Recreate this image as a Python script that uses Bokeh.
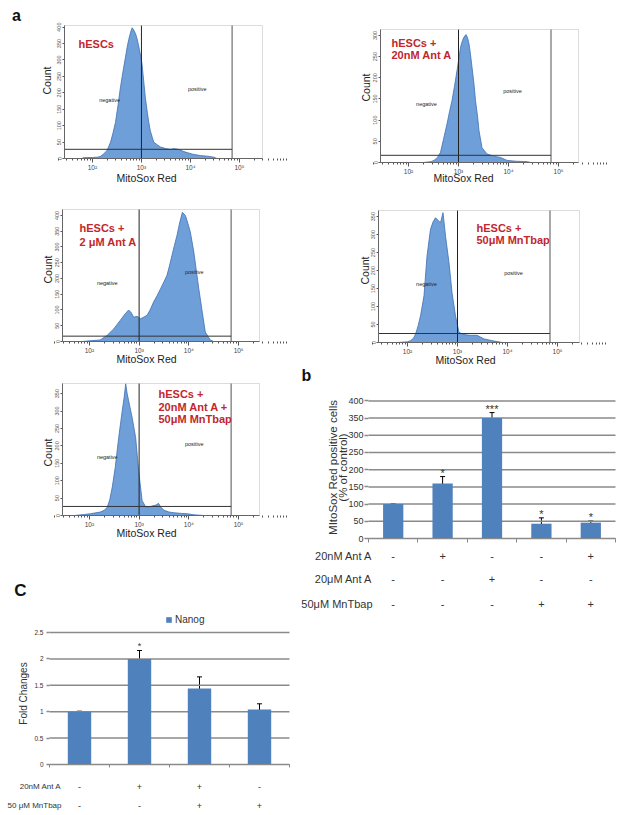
import math
from bokeh.plotting import figure
from bokeh.models import (Range1d, FixedTicker, Label, LabelSet, ColumnDataSource,
                          Whisker, TeeHead, Legend, LegendItem, Spacer, BoxAnnotation)
from bokeh.layouts import row, column
from bokeh.core.properties import value
from bokeh.embed import file_html
from bokeh.resources import INLINE

FONT = "Liberation Sans"
RED = "#c1272d"
HIST_FILL = "#6f9fd8"
HIST_LINE = "#3d6fb3"
BAR = "#4f81bd"
GRID = "#8a8a8a"
TXT = "#333333"

# ---------------- data: flow histograms (x = log10 MitoSox Red, counts) ----------------
h1_x = [1.8, 1.9, 2.0, 2.1, 2.16, 2.23, 2.30, 2.37, 2.42, 2.47, 2.52, 2.57, 2.62, 2.67, 2.71, 2.74,
        2.78, 2.81, 2.84, 2.88, 2.91, 2.94, 2.98, 3.01, 3.05, 3.08, 3.12, 3.15, 3.18, 3.22, 3.25,
        3.32, 3.39, 3.5, 3.6, 3.66, 3.75, 3.85, 3.93, 4.05, 4.2, 4.35, 4.48, 4.54]
h1_c = [2, 3, 3, 4, 6, 14, 25, 50, 78, 110, 160, 215, 262, 305, 340, 362,
        385, 398, 392, 380, 365, 345, 315, 290, 230, 185, 140, 110, 85, 65, 50,
        42, 35, 30, 28, 30, 28, 22, 18, 13, 9, 7, 4, 0]

h2_x = [2.3, 2.45, 2.51, 2.58, 2.64, 2.7, 2.77, 2.82, 2.87, 2.92, 2.97, 3.01, 3.04, 3.08, 3.11, 3.15,
        3.18, 3.21, 3.24, 3.27, 3.31, 3.34, 3.38, 3.41, 3.47, 3.57, 3.7, 3.84, 3.97, 4.15, 4.37, 4.45]
h2_c = [0, 2, 5, 12, 24, 55, 91, 120, 146, 180, 217, 248, 272, 288, 296, 302,
        295, 280, 255, 225, 185, 146, 110, 75, 35, 20, 15, 12, 5, 3, 2, 0]

h3_x = [1.85, 2.0, 2.22, 2.36, 2.49, 2.62, 2.72, 2.79, 2.84, 2.89, 2.96, 3.03, 3.1, 3.16, 3.22, 3.29,
        3.36, 3.43, 3.5, 3.56, 3.61, 3.66, 3.71, 3.76, 3.82, 3.87, 3.93, 3.98, 4.03, 4.1, 4.15, 4.2,
        4.27, 4.33, 4.43, 4.5]
h3_c = [0, 2, 5, 20, 40, 67, 88, 100, 92, 77, 80, 72, 78, 83, 100, 125,
        145, 167, 190, 210, 240, 273, 305, 336, 380, 410, 400, 375, 347, 284, 225, 167,
        93, 30, 5, 0]

h4_x = [1.8, 2.0, 2.06, 2.12, 2.16, 2.21, 2.26, 2.33, 2.39, 2.46, 2.51, 2.56, 2.61, 2.66, 2.71, 2.76,
        2.83, 2.89, 2.96, 3.03, 3.13, 3.25, 3.39, 3.53, 3.73, 3.9]
h4_c = [0, 2, 5, 12, 23, 45, 74, 130, 240, 315, 335, 347, 340, 333, 361, 296,
        222, 139, 74, 28, 22, 20, 20, 10, 4, 0]

h5_x = [1.7, 1.9, 2.02, 2.22, 2.3, 2.36, 2.41, 2.46, 2.52, 2.59, 2.66, 2.7, 2.73, 2.76, 2.79, 2.86,
        2.93, 2.99, 3.06, 3.13, 3.2, 3.28, 3.34, 3.39, 3.43, 3.5, 3.6, 3.7, 3.85, 3.97, 4.1, 4.3]
h5_c = [0, 3, 5, 10, 15, 24, 45, 81, 138, 224, 300, 340, 378, 350, 329, 281,
        224, 129, 43, 25, 24, 28, 30, 35, 25, 15, 10, 8, 6, 5, 2, 0]

gate_neg = 3.0        # log10 of negative/positive boundary
gate_max = 4.85       # log10 of right gate
gate_y = [28, 17, 17, 25, 26]
hist_xticks = [2, 3, 4, 5]
hist_xtick_labels = ["10\u00b2", "10\u00b3", "10\u2074", "10\u2075"]

# ---------------- data: panel b ----------------
b_vals = [100, 160, 350, 43, 46]
b_err = [1, 20, 16, 17, 5]
b_stars = ["", "*", "***", "*", "*"]
b_rows = ["20nM Ant A", "20\u03bcM Ant A", "50\u03bcM MnTbap"]
b_signs = [["-", "+", "-", "-", "+"],
           ["-", "-", "+", "-", "-"],
           ["-", "-", "-", "+", "+"]]
b_yticks = [0, 50, 100, 150, 200, 250, 300, 350, 400]

# ---------------- data: panel c ----------------
c_vals = [1.0, 2.0, 1.44, 1.04]
c_err = [0.01, 0.16, 0.22, 0.11]
c_stars = ["", "*", "", ""]
c_rows = ["20nM Ant A", "50 \u03bcM MnTbap"]
c_signs = [["-", "+", "+", "-"],
           ["-", "-", "+", "+"]]
c_yticks = [0, 0.5, 1, 1.5, 2, 2.5]
c_ytick_labels = ["0", "0.5", "1", "1.5", "2", "2.5"]


def panel(W, H, bl, bt, fw, fh, xr, yr):
    """Figure whose frame is the whole canvas; the plot area (xr, yr) sits at bl/bt with size fw x fh."""
    bb = H - bt - fh
    br = W - bl - fw
    sx = (xr[1] - xr[0]) / fw
    sy = (yr[1] - yr[0]) / fh
    p = figure(width=W, height=H,
               x_range=Range1d(xr[0] - bl * sx, xr[1] + br * sx),
               y_range=Range1d(yr[0] - bb * sy, yr[1] + bt * sy),
               output_backend="svg", toolbar_location=None, min_border=0)
    if p.title is not None:
        p.title.visible = False
    p.outline_line_color = None
    p.grid.visible = False
    p.xaxis.fixed_location = yr[0]
    p.yaxis.fixed_location = xr[0]
    p.xaxis.bounds = xr
    p.yaxis.bounds = yr
    return p, (bl, bb)


def lab(p, g, text, rx, ry, size, color=TXT, bold=False, angle=0.0, align="left", baseline="middle"):
    p.add_layout(Label(x=g[0] + rx, y=g[1] + ry, x_units="screen", y_units="screen", text=text,
                       text_font=FONT, text_font_size=size, text_color=color,
                       text_font_style="bold" if bold else "normal", angle=angle,
                       text_align=align, text_baseline=baseline))


def hist_panel(W, H, bl, bt, fw, fh, xr, ymax, ytop, xs, cs, gy, titles, tpos, neg, pos, cnt, xl, letter=None):
    p, g = panel(W, H, bl, bt, fw, fh, xr, (0, ymax))
    p.add_layout(BoxAnnotation(left=xr[0], right=xr[1], bottom=0, top=ymax, fill_color=None,
                               line_color="#8a8a8a", line_width=1))
    p.varea(x=xs, y1=0, y2=cs, fill_color=HIST_FILL)
    p.line(xs, cs, line_color=HIST_LINE, line_width=0.8)
    p.segment(x0=[gate_neg], y0=[0], x1=[gate_neg], y1=[ymax], line_color="#222222", line_width=1)
    p.segment(x0=[gate_max], y0=[0], x1=[gate_max], y1=[ymax], line_color="#7a7a7a", line_width=1.3)
    p.segment(x0=[xr[0]], y0=[gy], x1=[gate_max], y1=[gy], line_color="#333333", line_width=1)
    # x axis
    minors = [math.log10(k * 10 ** d) for d in range(1, 6) for k in range(2, 10)]
    p.xaxis.ticker = FixedTicker(ticks=hist_xticks, minor_ticks=minors)
    p.xaxis.major_label_overrides = dict(zip(hist_xticks, hist_xtick_labels))
    p.xaxis.major_label_text_font = FONT
    p.xaxis.major_label_text_font_size = "6.5px"
    p.xaxis.major_label_text_color = "#444444"
    p.xaxis.major_tick_in = 0
    p.xaxis.major_tick_out = 4
    p.xaxis.minor_tick_in = 0
    p.xaxis.minor_tick_out = 2
    p.xaxis.major_label_standoff = 1
    p.xaxis.axis_line_color = "#555555"
    p.xaxis.major_tick_line_color = "#555555"
    p.xaxis.minor_tick_line_color = "#555555"
    # y axis
    p.yaxis.ticker = FixedTicker(ticks=list(range(0, ytop + 1, 50)), minor_ticks=[])
    p.yaxis.major_label_orientation = "vertical"
    p.yaxis.major_label_text_font = FONT
    p.yaxis.major_label_text_font_size = "5.5px"
    p.yaxis.major_label_text_color = "#555555"
    p.yaxis.major_tick_in = 0
    p.yaxis.major_tick_out = 2
    p.yaxis.major_label_standoff = 1
    p.yaxis.axis_line_color = "#555555"
    p.yaxis.major_tick_line_color = "#555555"
    # texts
    for i, t in enumerate(titles):
        lab(p, g, t, tpos[i][0], tpos[i][1], "11px", color=RED, bold=True)
    p.add_layout(Label(x=neg[0], y=neg[1], text="negative", text_font=FONT, text_font_size="5.5px",
                       text_color="#222222", text_align="center", text_baseline="middle"))
    p.add_layout(Label(x=pos[0], y=pos[1], text="positive", text_font=FONT, text_font_size="5.5px",
                       text_color="#222222", text_align="center", text_baseline="middle"))
    lab(p, g, "Count", cnt[0], cnt[1], "10.5px", color="#222222", angle=math.pi / 2, align="center")
    lab(p, g, "MitoSox Red", xl[0], xl[1], "10.5px", color="#222222", align="center")
    if letter:
        lab(p, g, letter[0], letter[1], letter[2], "16px", color="#111111", bold=True, align="center")
    return p


a1 = hist_panel(300, 193, 64, 25, 198, 133, (1.43, 5.47), 405, 400, h1_x, h1_c, gate_y[0],
                ["hESCs"], [(14, 115)], (2.35, 179), (4.14, 213), (-18, 78), (82, -19),
                letter=("a", -48, 143))
a2 = hist_panel(322, 193, 80, 29, 198, 133, (1.44, 5.40), 314, 300, h2_x, h2_c, gate_y[1],
                ["hESCs +", " 20nM Ant A"], [(11, 120), (11, 108)], (2.36, 139), (4.08, 168),
                (-15, 75), (83, -15))
a3 = hist_panel(300, 172, 62, 16, 197, 132, (1.46, 5.42), 419, 400, h3_x, h3_c, gate_y[2],
                ["hESCs +", " 2 \u03bcM Ant A"], [(17, 114), (17, 100)], (2.36, 187), (4.11, 222),
                (-15, 72), (84, -17))
a4 = hist_panel(322, 172, 78, 17, 201, 132, (1.42, 5.44), 367, 350, h4_x, h4_c, gate_y[3],
                ["hESCs +", "50\u03bcM MnTbap"], [(98, 115), (98, 103)], (2.38, 164), (4.12, 194),
                (-14, 72), (87, -17))
a5 = hist_panel(300, 200, 62, 18, 197, 132, (1.46, 5.42), 379, 350, h5_x, h5_c, gate_y[4],
                ["hESCs +", "20nM Ant A +", "50\u03bcM MnTbap"], [(96, 122), (96, 109), (96, 97)],
                (2.36, 169), (4.11, 204), (-15, 63), (84, -17))

# ---------------- panel b ----------------
nb = len(b_vals)
b_x = [i + 0.5 for i in range(nb)]
pb, gb = panel(322, 250, 68, 34, 247, 139, (0, nb), (0, 404))
pb.yaxis.bounds = (b_yticks[0], b_yticks[-1])
pb.segment(x0=[0] * len(b_yticks), y0=b_yticks, x1=[nb] * len(b_yticks), y1=b_yticks,
           line_color=GRID, line_width=1.5)
pb.vbar(x=b_x, top=b_vals, width=0.41, fill_color=BAR, line_color=None)
bsrc = ColumnDataSource(dict(x=b_x, up=[v + e for v, e in zip(b_vals, b_err)],
                             lo=[v - e for v, e in zip(b_vals, b_err)], st=b_stars))
pb.add_layout(Whisker(source=bsrc, base="x", upper="up", lower="lo", line_color="black", line_width=1,
                      upper_head=TeeHead(size=5, line_color="black", line_width=1),
                      lower_head=TeeHead(size=5, line_color="black", line_width=1)))
pb.text(x="x", y="up", text="st", source=bsrc, text_align="center", text_baseline="alphabetic",
        y_offset=-4, text_font=value(FONT), text_font_size="11px", text_color=TXT)
pb.yaxis.ticker = FixedTicker(ticks=b_yticks, minor_ticks=[])
pb.yaxis.axis_line_color = None
pb.yaxis.major_tick_in = 0
pb.yaxis.major_tick_out = 4
pb.yaxis.major_tick_line_color = GRID
pb.yaxis.major_tick_line_width = 1.5
pb.yaxis.major_label_standoff = 1
pb.yaxis.major_label_text_font = FONT
pb.yaxis.major_label_text_font_size = "9px"
pb.yaxis.major_label_text_color = TXT
pb.xaxis.ticker = FixedTicker(ticks=list(range(nb + 1)), minor_ticks=[])
pb.xaxis.major_label_overrides = {i: "" for i in range(nb + 1)}
pb.xaxis.axis_line_color = GRID
pb.xaxis.major_tick_line_color = GRID
pb.xaxis.major_tick_in = 0
pb.xaxis.major_tick_out = 4
lab(pb, gb, "MItoSox Red positive cells", -36, 71, "11.5px", angle=math.pi / 2, align="center")
lab(pb, gb, "(% of control)", -26, 71, "11.5px", angle=math.pi / 2, align="center")
lab(pb, gb, "b", -62, 163, "16px", color="#111111", bold=True, align="center")
b_row_y = [-17, -40, -65]
for r, name in enumerate(b_rows):
    lab(pb, gb, name, 4, b_row_y[r], "11px", align="right")
    pb.add_layout(LabelSet(source=ColumnDataSource(dict(x=b_x, y=[gb[1] + b_row_y[r]] * nb, t=b_signs[r])),
                           x="x", y="y", text="t", x_units="data", y_units="screen",
                           text_font=value(FONT), text_font_size="11px", text_color=TXT,
                           text_align="center", text_baseline="middle"))

# ---------------- panel c ----------------
nc = len(c_vals)
c_x = [i + 0.5 for i in range(nc)]
pc, gc = panel(300, 248, 49, 66, 240, 133, (0, nc), (0, 2.52))
pc.yaxis.bounds = (c_yticks[0], c_yticks[-1])
pc.segment(x0=[0] * len(c_yticks), y0=c_yticks, x1=[nc] * len(c_yticks), y1=c_yticks,
           line_color=GRID, line_width=1.5)
cbars = pc.vbar(x=c_x, top=c_vals, width=0.39, fill_color=BAR, line_color=None)
csrc = ColumnDataSource(dict(x=c_x, up=[v + e for v, e in zip(c_vals, c_err)],
                             lo=[v - e for v, e in zip(c_vals, c_err)], st=c_stars))
pc.add_layout(Whisker(source=csrc, base="x", upper="up", lower="lo", line_color="black", line_width=1,
                      upper_head=TeeHead(size=5, line_color="black", line_width=1),
                      lower_head=TeeHead(size=5, line_color="black", line_width=1)))
pc.text(x="x", y="up", text="st", source=csrc, text_align="center", text_baseline="alphabetic",
        y_offset=-5, text_font=value(FONT), text_font_size="9px", text_color=TXT)
pc.yaxis.ticker = FixedTicker(ticks=c_yticks, minor_ticks=[])
pc.yaxis.major_label_overrides = {float(t): s for t, s in zip(c_yticks, c_ytick_labels)}
pc.yaxis.axis_line_color = None
pc.yaxis.major_tick_in = 0
pc.yaxis.major_tick_out = 3
pc.yaxis.major_tick_line_color = GRID
pc.yaxis.major_tick_line_width = 1.5
pc.yaxis.major_label_standoff = 3
pc.yaxis.major_label_text_font = FONT
pc.yaxis.major_label_text_font_size = "6.5px"
pc.yaxis.major_label_text_color = TXT
pc.xaxis.ticker = FixedTicker(ticks=list(range(nc + 1)), minor_ticks=[])
pc.xaxis.major_label_overrides = {i: "" for i in range(nc + 1)}
pc.xaxis.axis_line_color = GRID
pc.xaxis.major_tick_line_color = GRID
pc.xaxis.major_tick_in = 0
pc.xaxis.major_tick_out = 3
lab(pc, gc, "Fold Changes", -26, 71, "10px", angle=math.pi / 2, align="center")
lab(pc, gc, "C", -29, 174, "17px", color="#111111", bold=True, align="center")
leg = Legend(items=[LegendItem(label="Nanog", renderers=[cbars])],
             location=(gc[0] + 116, gc[1] + 133 + 6),
             orientation="horizontal", glyph_width=7, glyph_height=7, label_standoff=3,
             label_text_font=FONT, label_text_font_size="10px", label_text_color=TXT,
             label_height=10, padding=2, margin=0, spacing=0,
             border_line_color=None, background_fill_alpha=0)
pc.add_layout(leg)
c_row_y = [-22, -41]
for r, name in enumerate(c_rows):
    lab(pc, gc, name, 12, c_row_y[r], "8px", align="right")
    pc.add_layout(LabelSet(source=ColumnDataSource(dict(x=c_x, y=[gc[1] + c_row_y[r]] * nc, t=c_signs[r])),
                           x="x", y="y", text="t", x_units="data", y_units="screen",
                           text_font=value(FONT), text_font_size="9px", text_color=TXT,
                           text_align="center", text_baseline="middle"))

layout = column(
    row(a1, a2),
    row(a3, a4),
    row(column(a5, pc), column(pb, Spacer(width=322, height=198))),
)

open("out.html", "w").write(file_html(layout, INLINE))
